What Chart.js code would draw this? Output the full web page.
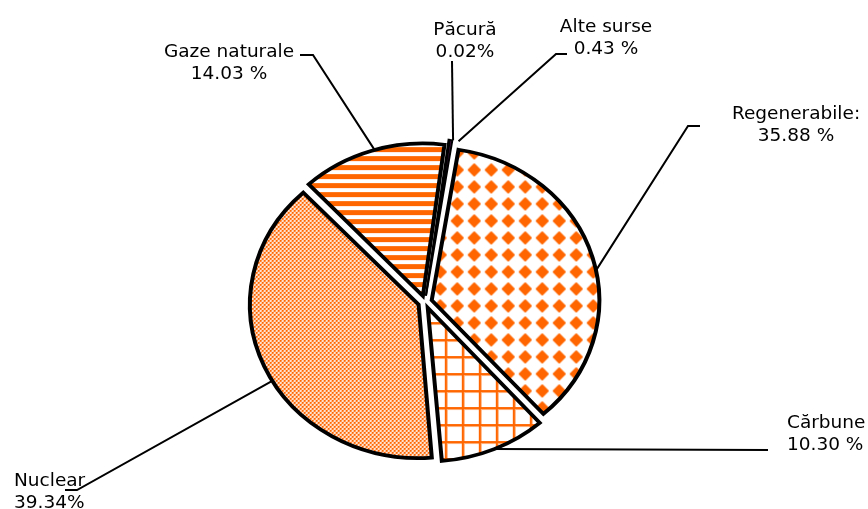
<!DOCTYPE html>
<html>
<head>
<meta charset="utf-8">
<script src="https://cdn.jsdelivr.net/npm/chart.js@4.4.1/dist/chart.umd.min.js"></script>
<style>
  html, body { margin: 0; padding: 0; background: #fff; }
  #wrap { width: 868px; height: 509px; }
</style>
</head>
<body>
<div id="wrap"><canvas id="pieChart" width="868" height="509"></canvas></div>
<script>
// --- Data ---
const sourceNames = ['Păcură', 'Alte surse', 'Regenerabile:', 'Cărbune', 'Nuclear', 'Gaze naturale'];
const sharePercent = [0.02, 0.43, 35.88, 10.30, 39.34, 14.03];
const shareText = ['0.02%', '0.43 %', '35.88 %', '10.30 %', '39.34%', '14.03 %'];

// --- Style ---
const ORANGE = '#ff6600';
const SQUASH = 0.91; // the original pie is slightly flattened vertically
const LABEL_FONT = '18.5px "DejaVu Sans", Verdana, sans-serif';
const ctx = document.getElementById('pieChart').getContext('2d');

// builds a repeating fill pattern from a small tile
function makePattern(w, h, drawTile) {
    const c = document.createElement('canvas');
    c.width = w; c.height = h;
    const g = c.getContext('2d');
    g.fillStyle = '#fff';
    g.fillRect(0, 0, w, h);
    drawTile(g, w, h);
    const p = ctx.createPattern(c, 'repeat');
    p.setTransform(new DOMMatrix().scale(1, 1 / SQUASH)); // undo the squash for the hatch
    return p;
}

const stripes = makePattern(9, 9, (g, w) => { g.fillStyle = ORANGE; g.fillRect(0, 0, w, 5); });
const diamonds = makePattern(17, 17, g => {
    g.fillStyle = ORANGE; g.strokeStyle = ORANGE; g.lineWidth = 2; g.lineJoin = 'round';
    g.beginPath();
    g.moveTo(8.5, 3); g.lineTo(14, 8.5); g.lineTo(8.5, 14); g.lineTo(3, 8.5);
    g.closePath(); g.fill(); g.stroke();
});
const grid = makePattern(17, 17, (g, w, h) => {
    g.fillStyle = '#ffb27f';
    g.fillRect(0, 0, w, 3); g.fillRect(0, 0, 3, h);
    g.fillStyle = ORANGE;
    g.fillRect(0, 0, w, 2); g.fillRect(0, 0, 2, h);
});
const checker = makePattern(4, 4, g => {
    g.fillStyle = ORANGE;
    g.fillRect(0, 0, 2, 2); g.fillRect(2, 2, 2, 2);
    g.fillStyle = '#ffc9a3';
    g.fillRect(2, 0, 1, 1); g.fillRect(0, 2, 1, 1);
});

const sliceFills = ['#000000', '#5a1a5a', diamonds, grid, checker, stripes];
const sliceBorders = [2, 2, 4, 4, 4, 4]; // thin slivers get a lighter outline

// label positions (text baseline of first line) and leader line bends
const labelLayout = [
    { x: 465, y: 35, align: 'center', path: [[452, 61]], shift: 1.5 },
    { x: 606, y: 32, align: 'center', path: [[567, 54], [556, 54]], shift: 2.5 },
    { x: 796, y: 119, align: 'center', path: [[700, 126], [688, 126]], shift: 5 },
    { x: 787, y: 428, align: 'left', path: [[768, 450]], shift: 0 },
    { x: 14, y: 486, align: 'left', path: [[65, 490], [77, 490]], shift: -6 },
    { x: 229, y: 57, align: 'center', path: [[300, 55], [313, 55]], shift: 1 }
];

// point on the outer edge of an exploded slice, as the library draws it
function arcEdgePoint(chart, i, shiftDeg) {
    const el = chart.getDatasetMeta(0).data[i];
    const o = (el.options.offset || 0) / 4;
    const half = (el.startAngle + el.endAngle) / 2;
    const circ = el.endAngle - el.startAngle;
    const fix = 1 - Math.sin(Math.min(Math.PI, circ));
    const a = half + shiftDeg * Math.PI / 180;
    const r = el.outerRadius + o * fix;
    const px = el.x + Math.cos(half) * o + Math.cos(a) * r;
    const py = el.y + Math.sin(half) * o + Math.sin(a) * r;
    return [px, el.y + (py - el.y) * SQUASH];
}

const squashPlugin = {
    id: 'squash',
    beforeDatasetsDraw(chart) {
        const cy = chart.getDatasetMeta(0).data[0].y;
        chart.ctx.save();
        chart.ctx.translate(0, cy);
        chart.ctx.scale(1, SQUASH);
        chart.ctx.translate(0, -cy);
    },
    afterDatasetsDraw(chart) {
        chart.ctx.restore();
    }
};

const leaderLabels = {
    id: 'leaderLabels',
    afterDraw(chart) {
        const c = chart.ctx;
        c.save();
        c.strokeStyle = '#000';
        c.lineWidth = 2;
        c.lineJoin = 'miter';
        labelLayout.forEach((lay, i) => {
            const pts = lay.path.concat([arcEdgePoint(chart, i, lay.shift)]);
            c.beginPath();
            c.moveTo(pts[0][0], pts[0][1]);
            for (let k = 1; k < pts.length; k++) c.lineTo(pts[k][0], pts[k][1]);
            c.stroke();

            c.fillStyle = '#000';
            c.font = LABEL_FONT;
            c.textAlign = lay.align;
            c.textBaseline = 'alphabetic';
            c.fillText(sourceNames[i], lay.x, lay.y);
            c.fillText(shareText[i], lay.x, lay.y + 22);
        });
        c.restore();
    }
};

new Chart(ctx, {
    type: 'pie',
    data: {
        labels: sourceNames,
        datasets: [{
            data: sharePercent,
            backgroundColor: sliceFills,
            borderColor: '#000',
            borderWidth: sliceBorders,
            borderJoinStyle: 'miter',
            offset: 28,
            radius: 166,
            clip: false
        }]
    },
    options: {
        responsive: false,
        animation: false,
        events: [],
        rotation: 7.5,
        layout: { padding: { left: 0, right: 18, top: 95, bottom: 0 } },
        plugins: {
            legend: { display: false },
            tooltip: { enabled: false }
        }
    },
    plugins: [squashPlugin, leaderLabels]
});
</script>
</body>
</html>
